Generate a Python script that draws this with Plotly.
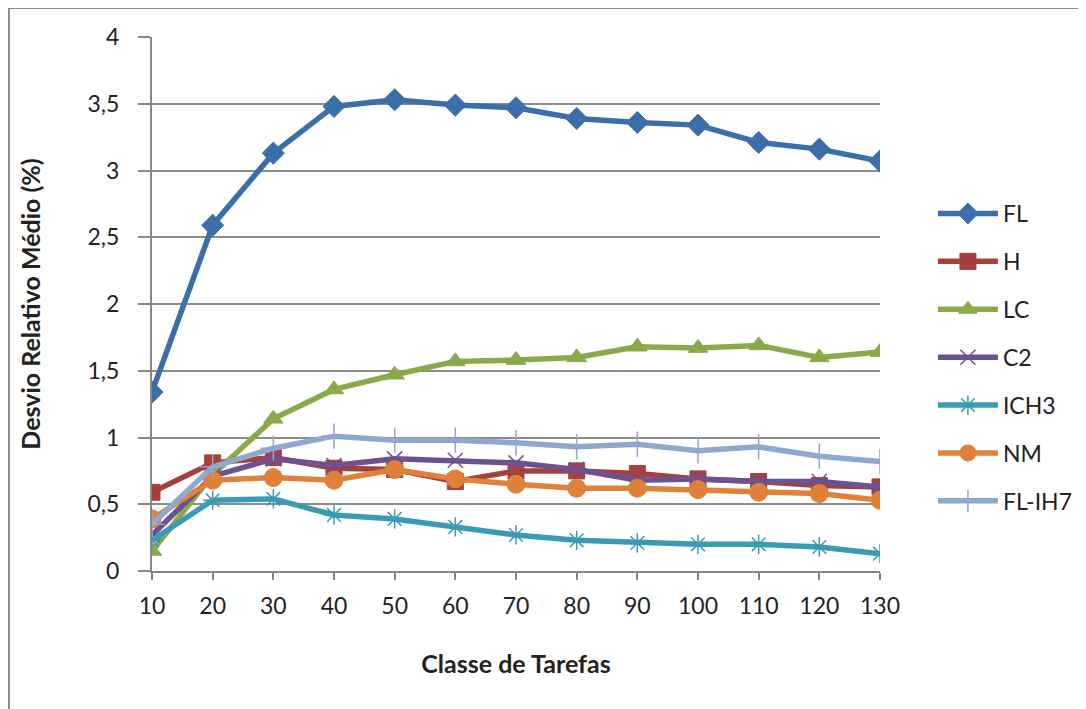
import plotly.graph_objects as go

classes = [10, 20, 30, 40, 50, 60, 70, 80, 90, 100, 110, 120, 130]
fl     = [1.34, 2.59, 3.13, 3.48, 3.53, 3.49, 3.47, 3.39, 3.36, 3.34, 3.21, 3.16, 3.07]
h      = [0.59, 0.81, 0.85, 0.77, 0.76, 0.67, 0.75, 0.75, 0.73, 0.69, 0.67, 0.64, 0.63]
lc     = [0.15, 0.72, 1.14, 1.36, 1.47, 1.57, 1.58, 1.60, 1.68, 1.67, 1.69, 1.60, 1.64]
c2     = [0.27, 0.71, 0.84, 0.79, 0.84, 0.83, 0.81, 0.76, 0.68, 0.69, 0.67, 0.67, 0.63]
ich3   = [0.23, 0.53, 0.54, 0.42, 0.39, 0.33, 0.27, 0.23, 0.21, 0.20, 0.20, 0.18, 0.13]
nm     = [0.39, 0.68, 0.70, 0.68, 0.76, 0.69, 0.65, 0.62, 0.62, 0.61, 0.59, 0.58, 0.53]
flih7  = [0.35, 0.78, 0.92, 1.01, 0.98, 0.98, 0.96, 0.93, 0.95, 0.90, 0.93, 0.86, 0.82]

y_ticks = [0, 0.5, 1, 1.5, 2, 2.5, 3, 3.5, 4]
y_tick_labels = ["0", "0,5", "1", "1,5", "2", "2,5", "3", "3,5", "4"]

series = [
    ("FL", fl, "#3C6EA8", "diamond", 17, 1),
    ("H", h, "#A6403D", "square", 16, 1),
    ("LC", lc, "#8AAA4A", "triangle-up", 17, 1),
    ("C2", c2, "#6E5190", "x-thin-open", 15, 1.5),
    ("ICH3", ich3, "#3A9BB3", "asterisk-open", 16, 1.5),
    ("NM", nm, "#DF8139", "circle", 18, 1),
    ("FL-IH7", flih7, "#8EA8CF", "cross-thin-open", 18, 1.5),
]

FONT = "Lato, 'Open Sans', sans-serif"
TXT = "#222222"
fig = go.Figure()
for name, vals, color, sym, size, mlw in series:
    fig.add_trace(go.Scatter(
        x=classes, y=vals, name=name, mode="lines+markers",
        legendgroup=name,
        line=dict(color=color, width=5.5),
        marker=dict(symbol=sym, size=size, color=color,
                    line=dict(color=color, width=mlw)),
    ))

fig.update_layout(
    width=1078, height=701,
    margin=dict(l=144, r=206, t=29, b=138, autoexpand=False),
    paper_bgcolor="white", plot_bgcolor="white",
    separators=", ",
    font=dict(family=FONT, size=23, color=TXT),
    showlegend=True,
    legend=dict(x=0.858, y=0.7375, xref="container", yref="container",
                xanchor="left", yanchor="top",
                font=dict(size=23, family=FONT, color=TXT),
                tracegroupgap=15, itemwidth=60, bgcolor="rgba(0,0,0,0)"),
    xaxis=dict(
        range=[10, 130], tickmode="array", tickvals=classes,
        ticktext=[str(c) for c in classes],
        showgrid=False, zeroline=False,
        showline=True, linecolor="#868686", linewidth=2,
        ticks="outside", ticklen=7, tickcolor="#868686", tickwidth=2,
        ticklabelstandoff=6,
        tickfont=dict(size=23, family=FONT, color=TXT),
        title=dict(text="<b>Classe de Tarefas</b>", standoff=38,
                   font=dict(size=25, family=FONT, color=TXT)),
    ),
    yaxis=dict(
        range=[0, 4], tickmode="array", tickvals=y_ticks, ticktext=y_tick_labels,
        showgrid=True, gridcolor="#8C8C8C", gridwidth=2, zeroline=False,
        showline=True, linecolor="#868686", linewidth=2,
        ticks="outside", ticklen=12, tickcolor="#868686", tickwidth=2,
        ticklabelstandoff=14,
        tickfont=dict(size=23, family=FONT, color=TXT),
        title=dict(text="<b>Desvio Relativo Médio (%)</b>", standoff=40,
                   font=dict(size=25, family=FONT, color=TXT)),
    ),
    shapes=[
        dict(type="line", xref="paper", yref="paper",
             x0=(9 - 152) / 728, x1=(9 - 152) / 728,
             y0=(571 - 8) / 534, y1=(571 - 712) / 534,
             line=dict(color="#8C8C8C", width=2)),
        dict(type="line", xref="paper", yref="paper",
             x0=(9 - 152) / 728, x1=(1090 - 152) / 728,
             y0=(571 - 8) / 534, y1=(571 - 8) / 534,
             line=dict(color="#8C8C8C", width=2)),
    ],
)

fig.write_html("out.html")
